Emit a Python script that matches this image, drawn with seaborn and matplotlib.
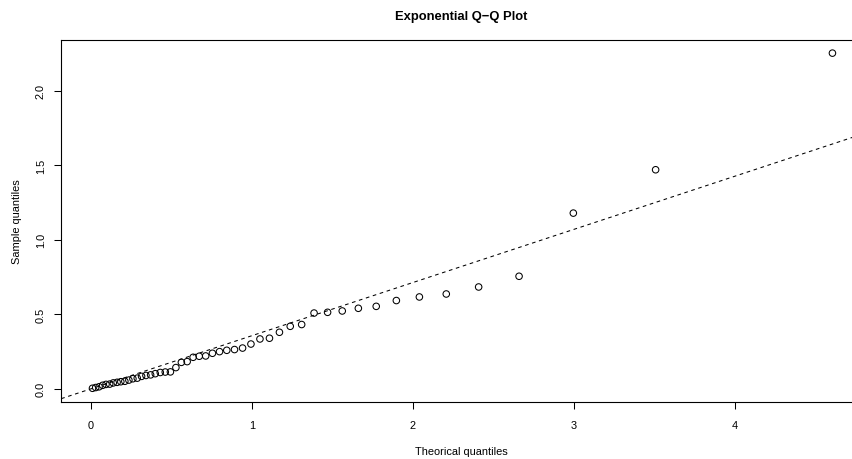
import matplotlib
matplotlib.use("Agg")
import matplotlib.pyplot as plt
import seaborn as sns
import pandas as pd

# Theoretical exponential quantiles (n = 50) and the sorted sample
theoretical = [
    0.010, 0.030, 0.051, 0.073, 0.094, 0.117, 0.139, 0.163, 0.186, 0.211,
    0.236, 0.261, 0.288, 0.315, 0.342, 0.371, 0.400, 0.431, 0.462, 0.494,
    0.528, 0.562, 0.598, 0.635, 0.673, 0.713, 0.755, 0.799, 0.844, 0.892,
    0.942, 0.994, 1.050, 1.109, 1.171, 1.238, 1.309, 1.386, 1.470, 1.561,
    1.661, 1.772, 1.897, 2.040, 2.207, 2.408, 2.659, 2.996, 3.507, 4.605,
]
sample = [
    0.002, 0.007, 0.012, 0.022, 0.028, 0.030, 0.038, 0.042, 0.046, 0.049,
    0.057, 0.066, 0.070, 0.082, 0.088, 0.092, 0.100, 0.108, 0.111, 0.112,
    0.141, 0.176, 0.181, 0.210, 0.217, 0.219, 0.237, 0.248, 0.257, 0.262,
    0.272, 0.299, 0.333, 0.338, 0.378, 0.418, 0.430, 0.507, 0.512, 0.521,
    0.539, 0.552, 0.591, 0.615, 0.635, 0.682, 0.754, 1.178, 1.469, 2.252,
]
# Reference line y = intercept + slope * x
line_intercept = -0.002
line_slope = 0.357

x_ticks = [0, 1, 2, 3, 4]
y_ticks = [0.0, 0.5, 1.0, 1.5, 2.0]
y_tick_labels = ["0.0", "0.5", "1.0", "1.5", "2.0"]

sns.set_theme(style="white")
plt.rcParams["font.family"] = ["Liberation Sans", "DejaVu Sans"]

df = pd.DataFrame({"theoretical": theoretical, "sample": sample})

W, H = 852, 460
fig = plt.figure(figsize=(W / 100, H / 100), dpi=100)
fig.patch.set_facecolor("white")
left, right, top, bottom = 61.2, 862.1, 40.7, 403.3
ax = fig.add_axes([left / W, 1 - bottom / H, (right - left) / W, (bottom - top) / H])
ax.set_facecolor("white")

sns.scatterplot(data=df, x="theoretical", y="sample", ax=ax,
                marker="o", s=22, facecolors="none", edgecolor="black",
                linewidth=0.75, zorder=3)
ax.margins(x=0.04, y=0.04)

ax.axline((0, line_intercept), slope=line_slope, color="black",
          linewidth=0.75, linestyle=(0, (3.5, 3.5)), zorder=2)

ax.set_xticks(x_ticks)
ax.set_xticklabels([str(t) for t in x_ticks])
ax.set_yticks(y_ticks)
ax.set_yticklabels(y_tick_labels, rotation=90, va="center")

ax.tick_params(axis="both", which="major", direction="out", length=5,
               width=0.75, color="black", labelsize=7.9, labelcolor="black",
               left=True, bottom=True)
ax.tick_params(axis="x", pad=8)
ax.tick_params(axis="y", pad=6)

for sp in ax.spines.values():
    sp.set_visible(True)
    sp.set_color("black")
    sp.set_linewidth(0.8)

ax.set_title("Exponential Q\u2212Q Plot", fontsize=9.4, fontweight="bold",
             pad=15, color="black")
ax.set_xlabel("Theorical quantiles", fontsize=7.9, labelpad=11, color="black")
ax.set_ylabel("Sample quantiles", fontsize=7.9, labelpad=10, color="black")

fig.savefig("out.png", dpi=100, facecolor="white")
